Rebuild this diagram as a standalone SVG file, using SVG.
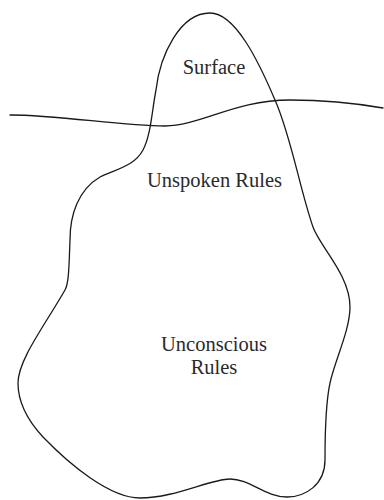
<svg xmlns="http://www.w3.org/2000/svg" width="384" height="500" viewBox="0 0 384 500">
<style>
.line{fill:none;stroke:#1a1a1a;stroke-width:1.3;stroke-linejoin:round;stroke-linecap:round}
.lbl{font-family:"Liberation Serif","Times New Roman",serif;font-size:20.5px;fill:#2a2a2a;text-anchor:middle}
</style>
<rect width="384" height="500" fill="#ffffff"/>
<g id="iceberg">
<path class="line" d="M210,13 C235,13 258,60 275,100 C291,136 300,190 313,227 C320,247 350,275 350,307 C350,330 335,360 330,383 C327,397 325,430 325,460 C325,485 305,497 287,497 C265,497 250,479 230,479 C210,479 175,498 140,498 C110,498 70,465 43,437 C30,423 18,405 18,383 C18,360 45,325 65,290 C69,283 69,265 70,240 C70,215 78,190 100,177 C120,168 135,165 143,150 C151,135 152,110 156,90 C160,55 180,13 210,13 Z"/>
</g>
<g id="waterline">
<path class="line" d="M10,115 C60,115 120,126 165,126 C200,126 235,100 290,100 C330,100 360,104 383,108"/>
</g>
<g id="surface"><text class="lbl" x="214" y="74">Surface</text></g>
<g id="unspoken"><text class="lbl" x="214.5" y="186.5">Unspoken Rules</text></g>
<g id="unconscious"><text class="lbl" x="214" y="351">Unconscious</text><text class="lbl" x="214" y="373.5">Rules</text></g>
</svg>
